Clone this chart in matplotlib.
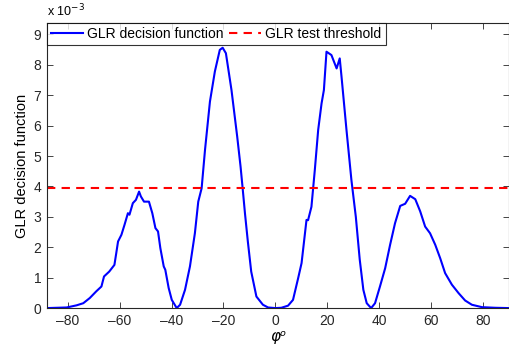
import matplotlib
matplotlib.use("Agg")
import matplotlib.pyplot as plt

plt.rcParams["font.family"] = ["Liberation Sans", "DejaVu Sans"]
plt.rcParams["mathtext.fontset"] = "dejavusans"

# angle (degrees) and GLR decision function (units of 1e-3)
phi = [-88, -80.4, -76.6, -74, -71.5, -69, -67, -66, -64, -62, -61.3, -60.6,
       -59.3, -58.1, -56.8, -56.2, -54.9, -53.7, -52.5, -51.8, -50.6, -48.7,
       -47.4, -46.2, -45.2, -44.3, -43, -42.4, -41.1, -39.9, -38, -36.7,
       -34.8, -32.9, -31, -29.7, -28.4, -27.1, -25.2, -23.3, -21.4, -20.3,
       -19.05, -16.9, -14.7, -13.4, -12.6, -11.7, -10.6, -9.3, -7.3, -4.8,
       -2.8, 0, 2.3, 4.9, 6.8, 8.8, 10.1, 12.0, 12.6, 13.9, 15.2, 16.5, 17.8,
       18.7, 19.7, 21.6, 23.6, 24.8, 25.5, 27.4, 29.3, 31, 32.5, 33.9, 35.2,
       36.9, 38.4, 40.3, 42.3, 44.2, 46.1, 48.1, 50.0, 51.9, 53.9, 55.8, 57.7,
       59.6, 61.6, 63.5, 65.4, 68.0, 70.6, 73.1, 75.7, 79.6, 84.7, 90]
glr = [0, 0.02, 0.09, 0.16, 0.33, 0.55, 0.71, 1.04, 1.2, 1.42, 1.8, 2.19,
       2.41, 2.74, 3.12, 3.07, 3.45, 3.56, 3.83, 3.67, 3.5, 3.5,
       3.12, 2.63, 2.52, 1.97, 1.37, 1.26, 0.66, 0.27, 0, 0.11,
       0.6, 1.37, 2.46, 3.5, 3.94, 5.2, 6.79, 7.78, 8.49, 8.56,
       8.38, 7.17, 5.64, 4.65, 3.94, 3.11, 2.19, 1.2, 0.38, 0.11,
       0.02, 0, 0.01, 0.08, 0.27, 0.99, 1.48, 2.9, 2.89, 3.33, 4.54, 5.86, 6.73,
       7.17, 8.43, 8.32, 7.88, 8.21, 7.6, 5.86, 4.21, 3.0, 1.6, 0.6, 0.16,
       0, 0.16, 0.71, 1.31, 2.08, 2.79, 3.36, 3.43, 3.69, 3.58, 3.18, 2.68,
       2.46, 2.08, 1.64, 1.15, 0.77, 0.49, 0.25, 0.11, 0.03, 0.01, 0]
threshold = 3.94

fig = plt.figure(figsize=(5.1, 3.45), dpi=100)
ax = fig.add_axes([0.092, 0.107, 0.906, 0.826])

ax.plot(phi, glr, color="#0000ff", lw=1.5, label="GLR decision function")
ax.axhline(threshold, color="#ff0000", lw=1.5, ls=(0, (4, 3)),
           label="GLR test threshold")

ax.set_xlim(-88, 90)
ax.set_ylim(0, 9.37)
ax.set_xticks(range(-80, 81, 20))
ax.set_xticklabels([str(v).replace("-", "\u2013") for v in range(-80, 81, 20)])
ax.set_yticks(range(0, 10))
ax.tick_params(direction="in", top=True, right=True, labelsize=10,
               length=4, width=0.6, colors="#262626", pad=4)
for s in ax.spines.values():
    s.set_linewidth(0.8)
    s.set_color("#262626")

ax.set_ylabel("GLR decision function", fontsize=10.5, labelpad=3)
ax.set_xlabel("\u03c6\u1d52", fontsize=11, labelpad=1, style="italic",
              family=["DejaVu Sans"])
ax.text(0, 1.015, r"x 10$^{-3}$", transform=ax.transAxes, fontsize=9,
        ha="left", va="bottom")

leg = ax.legend(loc="upper left", ncol=2, fontsize=10, frameon=True,
                fancybox=False, borderaxespad=0, handlelength=2.3,
                columnspacing=0.4, handletextpad=0.3, borderpad=0.3)
leg.get_frame().set_edgecolor("black")
leg.get_frame().set_linewidth(0.8)

fig.savefig("out.png", dpi=100)
